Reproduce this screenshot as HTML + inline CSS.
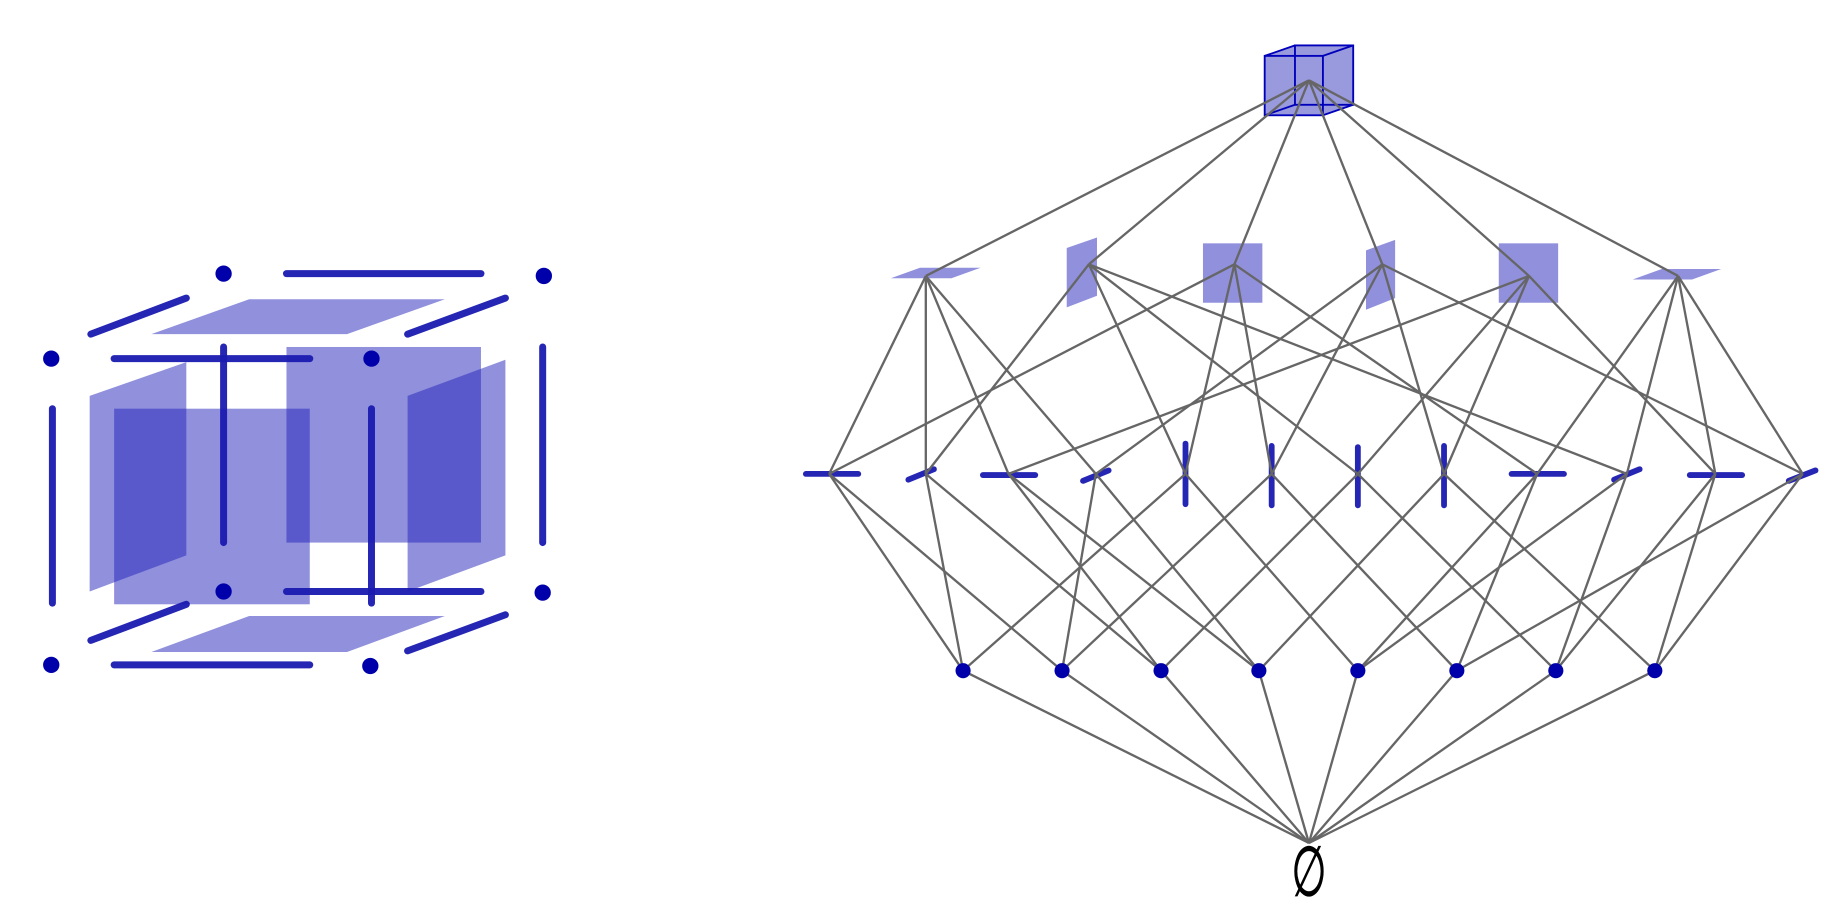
<!DOCTYPE html>
<html><head><meta charset="utf-8"><style>
html,body{margin:0;padding:0;background:#fff;}
svg{display:block;}
</style></head><body>
<svg width="1826" height="921" viewBox="0 0 1568 791" preserveAspectRatio="none" xmlns="http://www.w3.org/2000/svg">
<rect width="1568" height="791" fill="#fff"/>
<g fill="#2222bb" fill-opacity="0.5">
<polygon points="130,287 214,257 382,257 298,287"/>
<polygon points="130,560 214,529 382,529 298,560"/>
<polygon points="77,340 160,311 160,477 77,508"/>
<rect x="98" y="351" width="168" height="168"/>
<rect x="246" y="298" width="167" height="168"/>
<polygon points="350,340 434,309 434,477 350,508"/>
</g>
<g stroke="#1a1ab0" stroke-opacity="0.95" stroke-width="6" stroke-linecap="round">
<line x1="246" y1="235" x2="413" y2="235"/>
<line x1="78" y1="287" x2="160" y2="256"/>
<line x1="350" y1="287" x2="434" y2="256"/>
<line x1="98" y1="308" x2="266" y2="308"/>
<line x1="192" y1="298" x2="192" y2="466"/>
<line x1="466" y1="298" x2="466" y2="466"/>
<line x1="45" y1="351" x2="45" y2="518"/>
<line x1="319" y1="351" x2="319" y2="518"/>
<line x1="246" y1="508" x2="413" y2="508"/>
<line x1="78" y1="550" x2="160" y2="519"/>
<line x1="350" y1="559" x2="434" y2="528"/>
<line x1="98" y1="571" x2="266" y2="571"/>
</g>
<g fill="#0000aa">
<circle cx="192" cy="235" r="7"/><circle cx="467" cy="237" r="7"/>
<circle cx="44" cy="308" r="7"/><circle cx="319" cy="308" r="7"/>
<circle cx="192" cy="508" r="7"/><circle cx="466" cy="509" r="7"/>
<circle cx="44" cy="571" r="7"/><circle cx="318" cy="572" r="7"/>
</g>

<g>
<rect x="1086" y="48" width="50" height="51" fill="#3333bb" fill-opacity="0.5"/>
<polygon points="1086,48 1112,39 1162,39 1136,48" fill="#3333bb" fill-opacity="0.5"/>
<polygon points="1136,48 1162,39 1162,90 1136,99" fill="#3333bb" fill-opacity="0.5"/>
<g fill="none" stroke="#0000bb" stroke-width="1.6">
<rect x="1086" y="48" width="50" height="51"/>
<rect x="1112" y="39" width="50" height="51"/>
<line x1="1086" y1="48" x2="1112" y2="39"/><line x1="1136" y1="48" x2="1162" y2="39"/>
<line x1="1086" y1="99" x2="1112" y2="90"/><line x1="1136" y1="99" x2="1162" y2="90"/>
</g>
</g>
<g fill="#2222bb" fill-opacity="0.5">
<polygon points="765,239 790,230 842,230 817,239"/>
<polygon points="916,213 942,204 942,254 916,264"/>
<rect x="1033" y="209" width="51" height="51"/>
<polygon points="1173,215 1198,206 1198,256 1173,266"/>
<rect x="1287" y="209" width="51" height="51"/>
<polygon points="1402,240 1427,231 1478,231 1453,240"/>
</g>
<g stroke="#1a1ab0" stroke-opacity="0.95" stroke-width="5" stroke-linecap="round">
<line x1="692" y1="407" x2="737" y2="407"/>
<line x1="780" y1="412" x2="802" y2="403"/>
<line x1="844" y1="408" x2="889" y2="408"/>
<line x1="930" y1="413" x2="952" y2="404"/>
<line x1="1018" y1="381" x2="1018" y2="433"/>
<line x1="1092" y1="383" x2="1092" y2="434"/>
<line x1="1166" y1="384" x2="1166" y2="434"/>
<line x1="1240" y1="383" x2="1240" y2="434"/>
<line x1="1298" y1="407" x2="1343" y2="407"/>
<line x1="1386" y1="412" x2="1408" y2="403"/>
<line x1="1451" y1="408" x2="1496" y2="408"/>
<line x1="1536" y1="413" x2="1559" y2="404"/>
</g>

<g stroke="#666" stroke-width="2" fill="none">
<line x1="1124" y1="69" x2="795" y2="237"/><line x1="1124" y1="69" x2="935" y2="227"/>
<line x1="1124" y1="69" x2="1060" y2="227"/><line x1="1124" y1="69" x2="1187" y2="227"/>
<line x1="1124" y1="69" x2="1313" y2="237"/><line x1="1124" y1="69" x2="1441" y2="237"/>
<line x1="795" y1="237" x2="712" y2="407"/><line x1="795" y1="237" x2="795" y2="407"/>
<line x1="795" y1="237" x2="866" y2="407"/><line x1="795" y1="237" x2="941" y2="407"/>
<line x1="935" y1="227" x2="795" y2="407"/><line x1="935" y1="227" x2="1018" y2="407"/>
<line x1="935" y1="227" x2="1166" y2="407"/><line x1="935" y1="227" x2="1397" y2="407"/>
<line x1="1060" y1="227" x2="712" y2="407"/><line x1="1060" y1="227" x2="1018" y2="407"/>
<line x1="1060" y1="227" x2="1092" y2="407"/><line x1="1060" y1="227" x2="1320" y2="407"/>
<line x1="1187" y1="227" x2="941" y2="407"/><line x1="1187" y1="227" x2="1092" y2="407"/>
<line x1="1187" y1="227" x2="1240" y2="407"/><line x1="1187" y1="227" x2="1548" y2="407"/>
<line x1="1313" y1="237" x2="866" y2="407"/><line x1="1313" y1="237" x2="1166" y2="407"/>
<line x1="1313" y1="237" x2="1240" y2="407"/><line x1="1313" y1="237" x2="1473" y2="407"/>
<line x1="1441" y1="237" x2="1320" y2="407"/><line x1="1441" y1="237" x2="1397" y2="407"/>
<line x1="1441" y1="237" x2="1473" y2="407"/><line x1="1441" y1="237" x2="1548" y2="407"/>
<line x1="712" y1="407" x2="827" y2="576"/><line x1="712" y1="407" x2="912" y2="576"/>
<line x1="795" y1="407" x2="827" y2="576"/><line x1="795" y1="407" x2="997" y2="576"/>
<line x1="866" y1="407" x2="997" y2="576"/><line x1="866" y1="407" x2="1081" y2="576"/>
<line x1="941" y1="407" x2="912" y2="576"/><line x1="941" y1="407" x2="1081" y2="576"/>
<line x1="1018" y1="407" x2="827" y2="576"/><line x1="1018" y1="407" x2="1166" y2="576"/>
<line x1="1092" y1="407" x2="912" y2="576"/><line x1="1092" y1="407" x2="1251" y2="576"/>
<line x1="1166" y1="407" x2="997" y2="576"/><line x1="1166" y1="407" x2="1336" y2="576"/>
<line x1="1240" y1="407" x2="1081" y2="576"/><line x1="1240" y1="407" x2="1421" y2="576"/>
<line x1="1320" y1="407" x2="1166" y2="576"/><line x1="1320" y1="407" x2="1251" y2="576"/>
<line x1="1397" y1="407" x2="1166" y2="576"/><line x1="1397" y1="407" x2="1336" y2="576"/>
<line x1="1473" y1="407" x2="1336" y2="576"/><line x1="1473" y1="407" x2="1421" y2="576"/>
<line x1="1548" y1="407" x2="1251" y2="576"/><line x1="1548" y1="407" x2="1421" y2="576"/>
<line x1="827" y1="576" x2="1124" y2="724"/><line x1="912" y1="576" x2="1124" y2="724"/>
<line x1="997" y1="576" x2="1124" y2="724"/><line x1="1081" y1="576" x2="1124" y2="724"/>
<line x1="1166" y1="576" x2="1124" y2="724"/><line x1="1251" y1="576" x2="1124" y2="724"/>
<line x1="1336" y1="576" x2="1124" y2="724"/><line x1="1421" y1="576" x2="1124" y2="724"/>
</g>
<g fill="#0000aa">
<circle cx="827" cy="576" r="6.5"/><circle cx="912" cy="576" r="6.5"/>
<circle cx="997" cy="576" r="6.5"/><circle cx="1081" cy="576" r="6.5"/>
<circle cx="1166" cy="576" r="6.5"/><circle cx="1251" cy="576" r="6.5"/>
<circle cx="1336" cy="576" r="6.5"/><circle cx="1421" cy="576" r="6.5"/>
</g>
<text transform="translate(1124,769) scale(0.75,1.3)" text-anchor="middle" font-family="'DejaVu Serif', 'Liberation Serif', serif" font-size="46" fill="#000" stroke="#000" stroke-width="0.6">∅</text>
</svg>
</body></html>
